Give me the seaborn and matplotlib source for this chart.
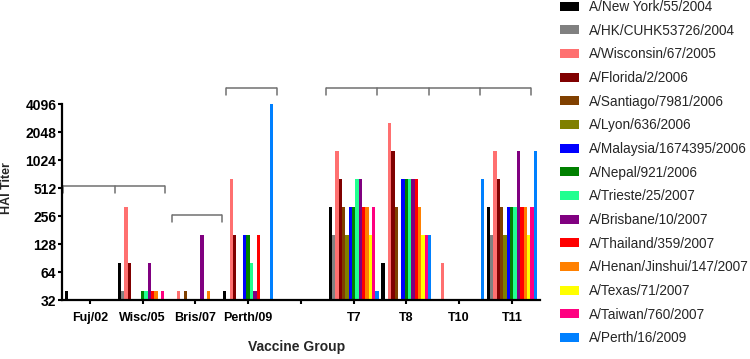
import seaborn as sns
import pandas as pd
import matplotlib.pyplot as plt
import numpy as np

nan = np.nan

groups = ['Fuj/02', 'Wisc/05', 'Bris/07', 'Perth/09', ' ', 'T7', 'T8', 'T10', 'T11']

strains = ['A/New York/55/2004', 'A/HK/CUHK53726/2004', 'A/Wisconsin/67/2005',
           'A/Florida/2/2006', 'A/Santiago/7981/2006', 'A/Lyon/636/2006',
           'A/Malaysia/1674395/2006', 'A/Nepal/921/2006', 'A/Trieste/25/2007',
           'A/Brisbane/10/2007', 'A/Thailand/359/2007', 'A/Henan/Jinshui/147/2007',
           'A/Texas/71/2007', 'A/Taiwan/760/2007', 'A/Perth/16/2009']

colors = ['#000000', '#808080', '#FF7070', '#800000', '#804000', '#808000',
          '#0000FF', '#008000', '#20FF90', '#800080', '#FF0000', '#FF8000',
          '#FFFF00', '#FF0080', '#0080FF']

# HAI titers per vaccine group, one value per strain (nan = no bar)
fuj02 = [40, nan, nan, nan, nan, nan, nan, nan, nan, nan, nan, nan, nan, nan, nan]
wisc05 = [80, 40, 320, 80, nan, nan, nan, 40, 40, 80, 40, 40, nan, 40, nan]
bris07 = [nan, nan, 40, nan, 40, nan, nan, nan, nan, 160, nan, 40, nan, nan, nan]
perth09 = [40, nan, 640, 160, nan, nan, 160, 160, 80, 40, 160, nan, nan, nan, 5120]
blank = [nan] * 15
t7 = [320, 160, 1280, 640, 320, 160, 320, 320, 640, 640, 320, 320, 160, 320, 40]
t8 = [80, nan, 2560, 1280, 320, nan, 640, 640, 640, 640, 640, 320, 160, 160, 160]
t10 = [nan, nan, 80, nan, nan, nan, nan, nan, nan, nan, nan, nan, nan, nan, 640]
t11 = [320, 160, 1280, 640, 320, 160, 320, 320, 320, 1280, 320, 320, 160, 320, 1280]

titers = [fuj02, wisc05, bris07, perth09, blank, t7, t8, t10, t11]

rows = []
for g, vals in zip(groups, titers):
    for s, v in zip(strains, vals):
        rows.append({'group': g, 'strain': s, 'titer': v})
df = pd.DataFrame(rows)

sns.set_style('ticks')
plt.rcParams['font.family'] = ['Liberation Sans', 'DejaVu Sans']

fig = plt.figure(figsize=(7.5, 3.59), dpi=100)
ax = fig.add_axes([0.0827, 0.164, 0.637, 0.546])

sns.barplot(data=df, x='group', y='titer', hue='strain', order=groups,
            hue_order=strains, palette=colors, width=0.95, saturation=1,
            errorbar=None, linewidth=0, ax=ax)

ax.set_yscale('log', base=2)
ax.set_ylim(32, 4096)
ax.set_xlim(-0.53, 8.53)
ticks = [32, 64, 128, 256, 512, 1024, 2048, 4096]
ax.set_yticks(ticks)
ax.set_yticklabels([str(t) for t in ticks], fontsize=10, fontweight='bold')
ax.yaxis.set_minor_locator(plt.NullLocator())
ax.set_xticks(range(len(groups)))
ax.set_xticklabels(groups, fontsize=9, fontweight='bold')
ax.tick_params(axis='both', colors='black', width=1.5, length=3)
ax.tick_params(axis='x', pad=5.5)
ax.tick_params(axis='y', pad=1)
for side in ['left', 'bottom']:
    ax.spines[side].set_linewidth(1.6)
    ax.spines[side].set_color('black')
sns.despine(ax=ax)

ax.set_ylabel('HAI Titer', fontsize=9, fontweight='bold')
ax.yaxis.set_label_coords(-0.103, 0.57)
ax.set_xlabel('Vaccine Group', fontsize=10, fontweight='bold')
ax.xaxis.set_label_coords(0.49, -0.205)


# group brackets (edges in group units, level in titer units)
def bracket(edges, level, drop=0.84):
    ax.plot([edges[0], edges[-1]], [level, level], color='#707070', lw=1.1,
            clip_on=False, solid_capstyle='butt')
    for e in edges:
        ax.plot([e, e], [level, level * drop], color='#707070', lw=1.1,
                clip_on=False)


bracket([-0.51, 0.47, 1.42], 540)
bracket([1.55, 2.5], 265)
bracket([2.58, 3.54], 6050)
bracket([4.47, 5.44, 6.42, 7.4, 8.37], 6050)

handles, labels = ax.get_legend_handles_labels()
ax.legend(handles, labels, loc='upper left', bbox_to_anchor=(0.7467, 1.0),
          bbox_transform=fig.transFigure, frameon=False, fontsize=9.8,
          borderpad=0, borderaxespad=0, handlelength=1.4, handleheight=0.65,
          handletextpad=0.73, labelspacing=0.71)

plt.savefig('out.png', dpi=100)
